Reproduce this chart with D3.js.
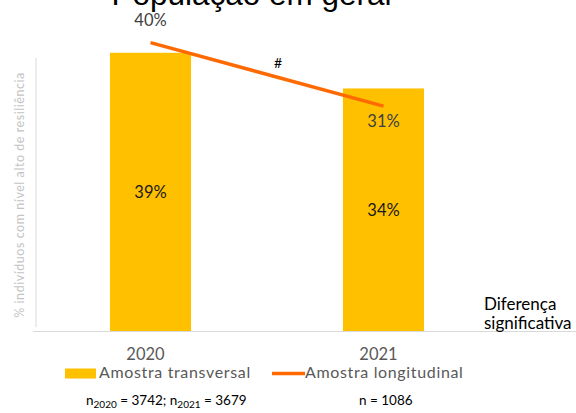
<!DOCTYPE html>
<html>
<head>
<meta charset="utf-8">
<script src="https://cdn.jsdelivr.net/npm/d3@7"></script>
<style>
  html, body { margin: 0; padding: 0; background: #fff; }
  svg { display: block; }
</style>
</head>
<body>
<svg id="chart" width="576" height="413"></svg>
<script>
// Resilience share by year: bars = cross-sectional sample, line = longitudinal sample
const years = ["2020", "2021"];
const transversal = [39, 34];
const longitudinal = [40, 31];
const seriesNames = ["Amostra transversal", "Amostra longitudinal"];
const titleText = "População em geral";
const yAxisTitle = "% indivíduos com nível alto de resiliência";
const sigMark = "#";
const sigNote = ["Diferença", "significativa"];

const W = 576, H = 413;
const svg = d3.select("#chart");
const labelFont = "Lato, 'Open Sans', sans-serif";

const x = d3.scaleBand().domain(years).range([34, 500])
  .paddingInner(0.652).paddingOuter(0.326);
const y = d3.scaleLinear().domain([0, 46.4]).range([331, 0]);
// the longitudinal line sits on its own secondary scale
const y2 = d3.scaleLinear().domain([0, 45]).range([325, 7.3]);
const cx = d => x(d) + x.bandwidth() / 2;

// title (runs off the top edge)
svg.append("text")
  .attr("x", 251.5).attr("y", 4.8)
  .attr("text-anchor", "middle")
  .style("font-family", "'Liberation Sans', Arial, sans-serif")
  .style("font-size", "31.5px")
  .attr("fill", "#000")
  .text(titleText);

// light vertical axis rule
svg.append("line")
  .attr("x1", 36).attr("x2", 36)
  .attr("y1", 58).attr("y2", 327)
  .attr("stroke", "#d9d9d9").attr("stroke-width", 1);

// y axis title
svg.append("text")
  .attr("transform", "translate(24,195) rotate(-90)")
  .attr("text-anchor", "middle")
  .style("font-family", labelFont)
  .style("font-size", "12.5px")
  .style("letter-spacing", "0.55px")
  .attr("fill", "#c4c4c4")
  .text(yAxisTitle);

// bars
const data = years.map((yr, i) => ({ year: yr, t: transversal[i], l: longitudinal[i] }));
svg.selectAll("rect.bar").data(data).enter().append("rect")
  .attr("class", "bar")
  .attr("x", d => x(d.year))
  .attr("width", x.bandwidth())
  .attr("y", d => y(d.t))
  .attr("height", d => y(0) - y(d.t))
  .attr("fill", "#ffc000");

// bar value labels, centred in the bar
svg.selectAll("text.barlab").data(data).enter().append("text")
  .attr("class", "barlab")
  .attr("x", d => cx(d.year))
  .attr("y", d => (y(d.t) + y(0)) / 2 + 6)
  .attr("text-anchor", "middle")
  .style("font-family", labelFont)
  .style("font-size", "16.5px")
  .attr("fill", "#1a1a1a")
  .text(d => d.t + "%");

// baseline x axis
const xAxis = d3.axisBottom(x).tickSize(0).tickPadding(17);
const gx = svg.append("g").attr("transform", `translate(0,${y(0)})`).call(xAxis);
gx.select(".domain").remove();
gx.selectAll("text")
  .attr("dx", -5)
  .style("font-family", labelFont)
  .style("font-size", "16.5px")
  .attr("fill", "#595959");
svg.append("line")
  .attr("x1", 33).attr("x2", W)
  .attr("y1", y(0) + 0.5).attr("y2", y(0) + 0.5)
  .attr("stroke", "#d9d9d9").attr("stroke-width", 1.2);

// longitudinal line
const line = d3.line().x(d => cx(d.year)).y(d => y2(d.l));
svg.append("path").datum(data)
  .attr("d", line)
  .attr("fill", "none")
  .attr("stroke", "#ff6a00")
  .attr("stroke-width", 3.5);

// line labels: first above, second below
svg.selectAll("text.linelab").data(data).enter().append("text")
  .attr("class", "linelab")
  .attr("x", d => cx(d.year))
  .attr("y", (d, i) => y2(d.l) + (i === 0 ? -16.5 : 21))
  .attr("text-anchor", "middle")
  .style("font-family", labelFont)
  .style("font-size", "16.5px")
  .attr("fill", "#404040")
  .text(d => d.l + "%");

// significance mark near the middle of the line
const mx = (cx(years[0]) + cx(years[1])) / 2;
const my = (y2(longitudinal[0]) + y2(longitudinal[1])) / 2;
svg.append("text")
  .attr("x", mx + 11).attr("y", my - 6)
  .attr("text-anchor", "middle")
  .style("font-family", labelFont)
  .style("font-size", "14px")
  .attr("fill", "#000")
  .text(sigMark);

// significance note
svg.append("text")
  .style("font-family", labelFont)
  .style("font-size", "17px")
  .attr("fill", "#000")
  .selectAll("tspan").data(sigNote).enter().append("tspan")
  .attr("x", 484)
  .attr("y", (d, i) => 309.5 + i * 19)
  .text(d => d);

// legend
const lg = svg.append("g").style("font-family", labelFont)
  .style("font-size", "16px");
lg.append("rect").attr("x", 65).attr("y", 368.5).attr("width", 31).attr("height", 10)
  .attr("fill", "#ffc000");
lg.append("text").attr("x", 99).attr("y", 378).attr("fill", "#595959")
  .style("letter-spacing", "0.65px")
  .text(seriesNames[0]);
lg.append("line").attr("x1", 272).attr("x2", 305).attr("y1", 373.5).attr("y2", 373.5)
  .attr("stroke", "#ff6a00").attr("stroke-width", 3.5);
lg.append("text").attr("x", 305).attr("y", 378).attr("fill", "#595959")
  .style("letter-spacing", "0.65px")
  .text(seriesNames[1]);

// sample sizes
const ns = svg.append("g").style("font-family", labelFont)
  .style("font-size", "13.5px").attr("fill", "#000");
const n1 = ns.append("text").attr("x", 86).attr("y", 405);
n1.append("tspan").text("n");
n1.append("tspan").attr("dy", 3).style("font-size", "10px").text("2020");
n1.append("tspan").attr("dy", -3).text(" = 3742; n");
n1.append("tspan").attr("dy", 3).style("font-size", "10px").text("2021");
n1.append("tspan").attr("dy", -3).text(" = 3679");
ns.append("text").attr("x", 359).attr("y", 405).text("n = 1086");
</script>
</body>
</html>
